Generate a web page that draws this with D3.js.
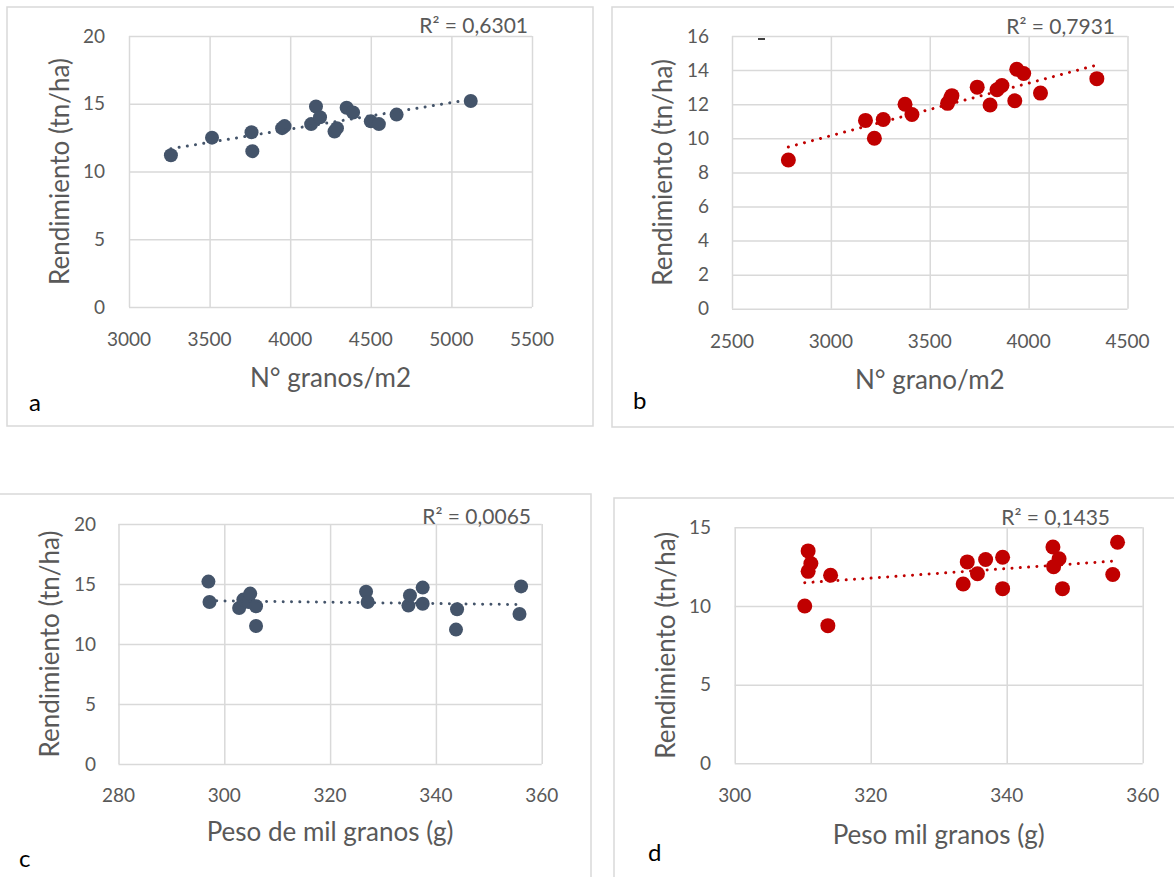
<!DOCTYPE html>
<html>
<head>
<meta charset="utf-8">
<script src="https://cdn.jsdelivr.net/npm/d3@7"></script>
<style>
  body { margin: 0; background: #fff; }
  svg { display: block; font-family: Lato, "Open Sans", sans-serif; }
  .grid line { stroke: #d9d9d9; stroke-width: 1.5; }
  .grid .domain { display: none; }
  .tick-lbl { fill: #595959; font-size: 19px; }
  .ttl { fill: #595959; font-size: 26px; }
  .r2 { fill: #595959; font-size: 21px; }
  .letter { fill: #000; font-size: 24px; }
</style>
</head>
<body>
<svg id="chart" width="1174" height="877"></svg>
<script>
// a: N° granos/m2 vs rendimiento
const granosA = [3260, 3515, 3760, 3765, 3950, 3965, 4130, 4160, 4185, 4275, 4290, 4350, 4390, 4500, 4550, 4660, 5120]
const rendA   = [11.2, 12.5, 12.9, 11.5, 13.2, 13.35, 13.5, 14.8, 14.0, 12.95, 13.2, 14.7, 14.35, 13.7, 13.5, 14.2, 15.2]

// b: N° grano/m2 vs rendimiento
const granosB = [2785, 3175, 3220, 3265, 3375, 3410, 3590, 3605, 3612, 3740, 3805, 3840, 3865, 3930, 3940, 3975, 4060, 4345]
const rendB   = [8.73, 11.05, 10.0, 11.1, 12.0, 11.4, 12.05, 12.35, 12.5, 13.0, 11.95, 12.85, 13.1, 12.2, 14.05, 13.8, 12.65, 13.5]

// c: peso de mil granos vs rendimiento
const pesoC = [297.0, 297.2, 302.8, 303.6, 304.6, 304.9, 306.0, 306.0, 326.8, 327.1, 334.8, 335.1, 337.5, 337.5, 344.0, 343.8, 356.1, 355.8]
const rendC = [15.2, 13.5, 13.0, 13.7, 13.5, 14.2, 13.15, 11.5, 14.35, 13.5, 13.2, 14.05, 14.7, 13.35, 12.9, 11.2, 14.8, 12.5]

// d: peso mil granos vs rendimiento
const pesoD = [310.8, 311.2, 310.8, 310.3, 314.1, 313.7, 333.6, 334.2, 335.7, 336.9, 339.4, 339.4, 346.8, 347.7, 346.9, 348.2, 356.3, 355.6]
const rendD = [13.5, 12.7, 12.2, 10.0, 11.95, 8.75, 11.4, 12.8, 12.05, 12.95, 13.1, 11.1, 13.75, 13.0, 12.5, 11.1, 14.05, 12.0]

const xTicksA = [3000, 3500, 4000, 4500, 5000, 5500]
const xTicksB = [2500, 3000, 3500, 4000, 4500]
const xTicksC = [280, 300, 320, 340, 360]
const xTicksD = [300, 320, 340, 360]
const yTicksA = [0, 5, 10, 15, 20]
const yTicksB = [0, 2, 4, 6, 8, 10, 12, 14, 16]
const yTicksC = [0, 5, 10, 15, 20]
const yTicksD = [0, 5, 10, 15]

const r2Labels = ['R² = 0,6301', 'R² = 0,7931', 'R² = 0,0065', 'R² = 0,1435']
const xTitles = ['N° granos/m2', 'N° grano/m2', 'Peso de mil granos (g)', 'Peso mil granos (g)']
const yTitle = 'Rendimiento (tn/ha)'
const letters = ['a', 'b', 'c', 'd']

const slate = '#44546A', red = '#C00000'

const panels = [
  { xs: granosA, ys: rendA, xt: xTicksA, yt: yTicksA, color: slate, r: 7,
    plot: [129, 532, 36, 307], frame: [7, 7, 593, 426],
    xLblY: 346, yLblX: 105, xTtlY: 387, yTtlX: 69, r2: [528, 33], letter: [29, 411] },
  { xs: granosB, ys: rendB, xt: xTicksB, yt: yTicksB, color: red, r: 7.5,
    plot: [732, 1127.5, 36, 308.8], frame: [612, 7, 1190, 427],
    xLblY: 348, yLblX: 709, xTtlY: 389, yTtlX: 672, r2: [1115, 34], letter: [633, 409] },
  { xs: pesoC, ys: rendC, xt: xTicksC, yt: yTicksC, color: slate, r: 7,
    plot: [118.5, 541.7, 524, 764], frame: [-2, 494, 591, 900],
    xLblY: 802, yLblX: 96, xTtlY: 841, yTtlX: 59, r2: [531, 524], letter: [19, 867] },
  { xs: pesoD, ys: rendD, xt: xTicksD, yt: yTicksD, color: red, r: 7.5,
    plot: [734.7, 1142.7, 527.3, 763.3], frame: [614, 498, 1190, 900],
    xLblY: 802, yLblX: 711, xTtlY: 844, yTtlX: 675, r2: [1110, 525], letter: [648, 861] }
]

const svg = d3.select('#chart')

panels.forEach((p, i) => {
  const [left, right, top, bottom] = p.plot
  const x = d3.scaleLinear()
      .domain(d3.extent(p.xt))
      .range([left, right])
  const y = d3.scaleLinear()
      .domain(d3.extent(p.yt))
      .range([bottom, top])

  // outer frame
  const [fx0, fy0, fx1, fy1] = p.frame
  svg.append('rect')
      .attr('x', fx0).attr('y', fy0)
      .attr('width', fx1 - fx0).attr('height', fy1 - fy0)
      .attr('fill', 'none')
      .attr('stroke', '#d9d9d9')
      .attr('stroke-width', 1.5)

  // gridlines
  svg.append('g')
      .attr('class', 'grid')
      .attr('transform', `translate(0,${bottom})`)
      .call(d3.axisBottom(x).tickValues(p.xt).tickSize(-(bottom - top)).tickFormat(''))
  svg.append('g')
      .attr('class', 'grid')
      .attr('transform', `translate(${left},0)`)
      .call(d3.axisLeft(y).tickValues(p.yt).tickSize(-(right - left)).tickFormat(''))

  // tick labels
  svg.append('g').selectAll('text')
      .data(p.xt)
    .enter().append('text')
      .attr('class', 'tick-lbl')
      .attr('x', d => x(d))
      .attr('y', p.xLblY)
      .attr('text-anchor', 'middle')
      .text(d => d)
  svg.append('g').selectAll('text')
      .data(p.yt)
    .enter().append('text')
      .attr('class', 'tick-lbl')
      .attr('x', p.yLblX)
      .attr('y', d => y(d))
      .attr('dy', '0.35em')
      .attr('text-anchor', 'end')
      .text(d => d)

  // axis titles
  svg.append('text')
      .attr('class', 'ttl')
      .attr('x', (left + right) / 2)
      .attr('y', p.xTtlY)
      .attr('text-anchor', 'middle')
      .text(xTitles[i])
  svg.append('text')
      .attr('class', 'ttl')
      .attr('transform', `translate(${p.yTtlX},${(top + bottom) / 2}) rotate(-90)`)
      .attr('text-anchor', 'middle')
      .text(yTitle)

  // points
  const pts = p.xs.map((v, k) => [v, p.ys[k]])
  svg.append('g').selectAll('circle')
      .data(pts)
    .enter().append('circle')
      .attr('cx', d => x(d[0]))
      .attr('cy', d => y(d[1]))
      .attr('r', p.r)
      .attr('fill', p.color)

  // linear trendline (least squares over the points)
  const mx = d3.mean(p.xs), my = d3.mean(p.ys)
  const slope = d3.sum(pts, d => (d[0] - mx) * (d[1] - my)) / d3.sum(pts, d => (d[0] - mx) ** 2)
  const icpt = my - slope * mx
  const ends = d3.extent(p.xs).map(v => [v, icpt + slope * v])
  svg.append('path')
      .attr('d', d3.line().x(d => x(d[0])).y(d => y(d[1]))(ends))
      .attr('fill', 'none')
      .attr('stroke', p.color)
      .attr('stroke-width', 3)
      .attr('stroke-linecap', 'round')
      .attr('stroke-dasharray', '0.01 8.3')

  // R² label
  svg.append('text')
      .attr('class', 'r2')
      .attr('x', p.r2[0])
      .attr('y', p.r2[1])
      .attr('text-anchor', 'end')
      .text(r2Labels[i])

  // panel letter
  svg.append('text')
      .attr('class', 'letter')
      .attr('x', p.letter[0])
      .attr('y', p.letter[1])
      .text(letters[i])
})

// small stray mark near the top of panel b
svg.append('line')
    .attr('x1', 758).attr('x2', 765)
    .attr('y1', 39).attr('y2', 39)
    .attr('stroke', '#000')
    .attr('stroke-width', 1.5)
</script>
</body>
</html>
